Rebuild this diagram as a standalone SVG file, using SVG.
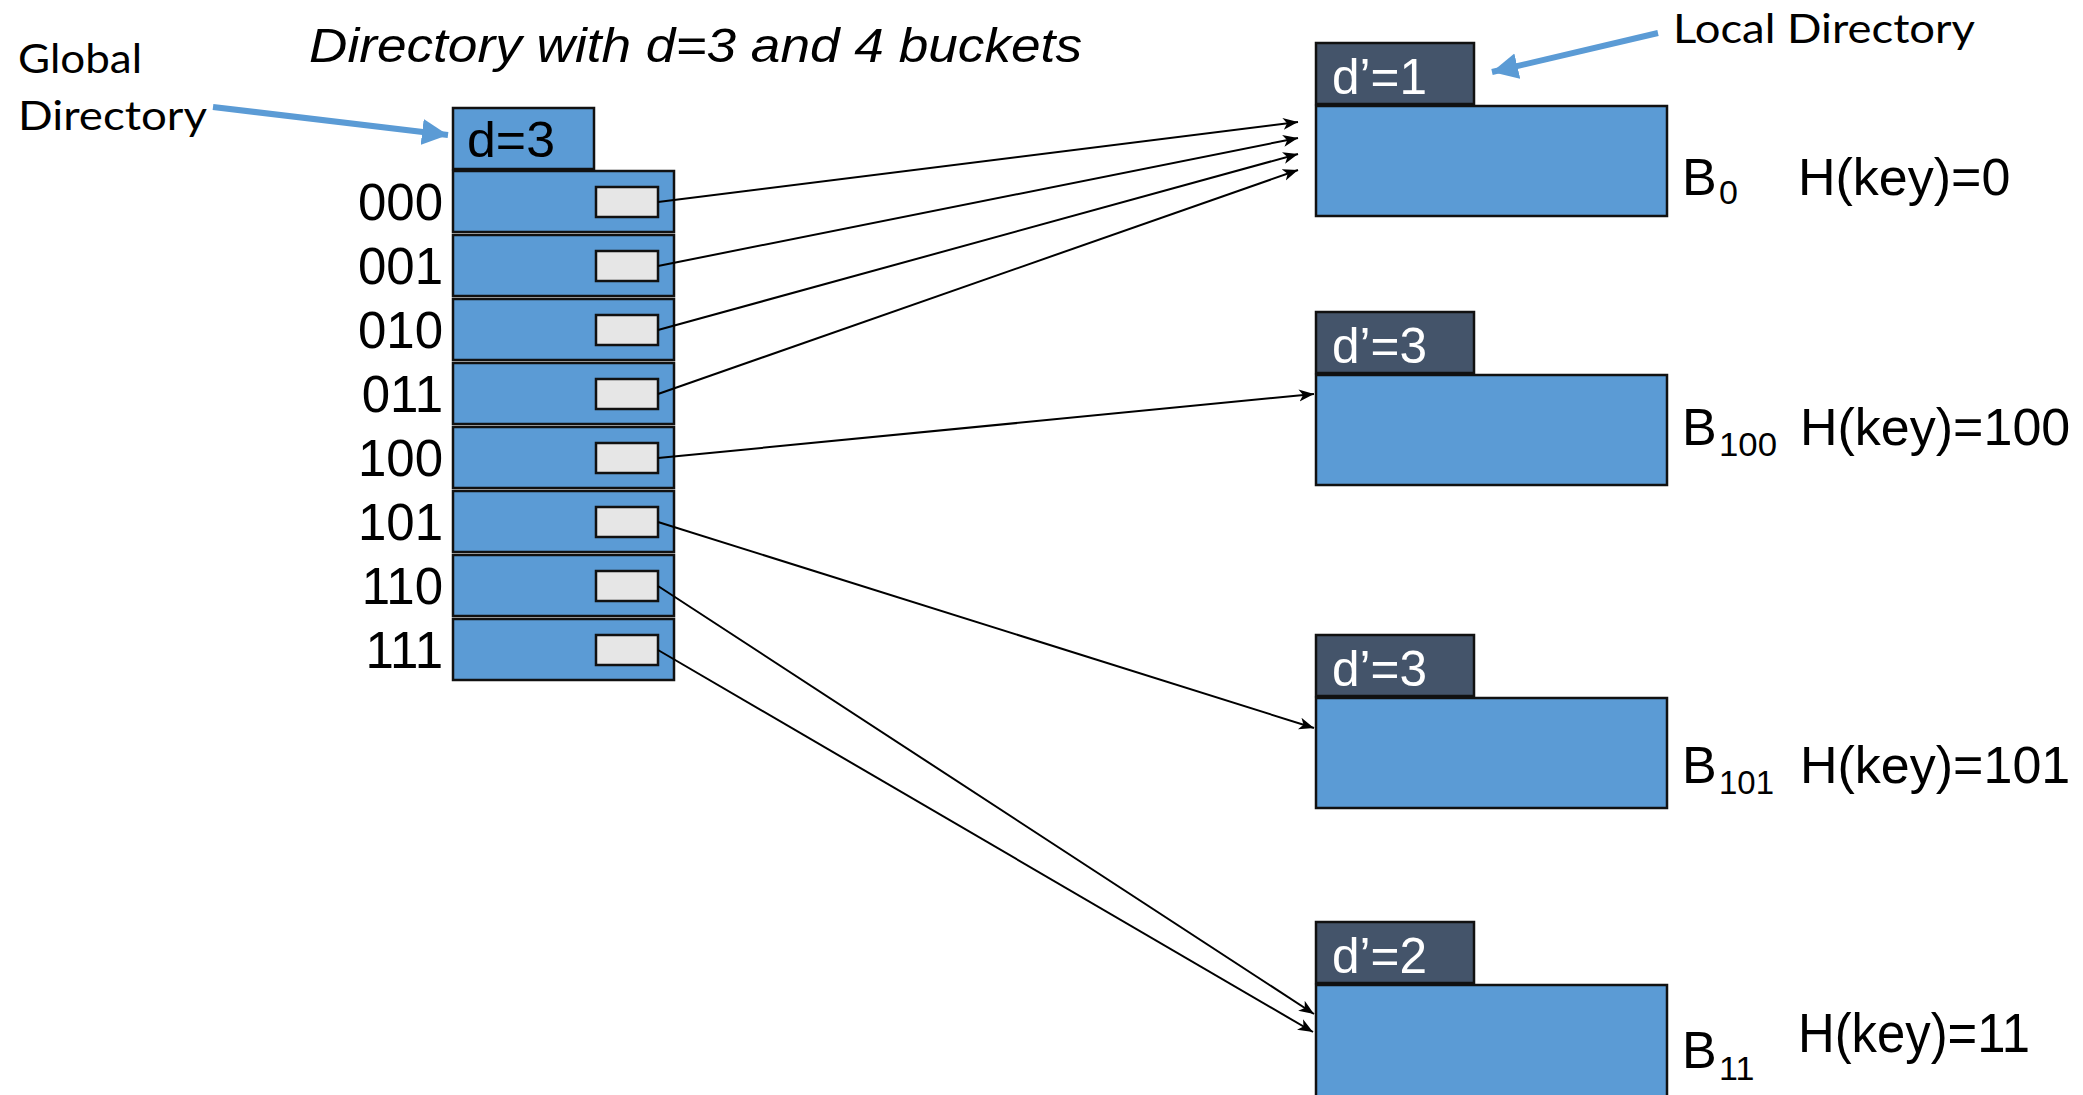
<svg xmlns="http://www.w3.org/2000/svg" width="2083" height="1095" viewBox="0 0 2083 1095">
  <style>
    .cell { fill: #5b9bd5; stroke: #111; stroke-width: 2.5; }
    .ptr { fill: #e6e6e6; stroke: #111; stroke-width: 2.5; }
    .depth { fill: #44546a; stroke: #111; stroke-width: 2.5; }
    .lbl { font-family: "Liberation Sans", Arial, sans-serif; fill: #000; }
    .gill { font-family: Lato, "Open Sans", sans-serif; fill: #000; }
    .wht { font-family: "Liberation Sans", Arial, sans-serif; fill: #fff; }
    .link { fill: none; stroke: #000; stroke-width: 2; marker-end: url(#tip); }
    .callout { fill: none; stroke: #5b9bd5; stroke-width: 6; marker-end: url(#bluetip); }
  </style>
  <defs>
    <marker id="tip" markerUnits="userSpaceOnUse" markerWidth="16" markerHeight="14" viewBox="0 -7 16 14" refX="15" refY="0" orient="auto">
      <path d="M0,-6 L15,0 L0,6 L4,0 z" fill="#000"/>
    </marker>
    <marker id="bluetip" markerUnits="userSpaceOnUse" markerWidth="28" markerHeight="28" viewBox="0 -14 28 28" refX="26" refY="0" orient="auto">
      <path d="M0,-13 L26,0 L0,13 z" fill="#5b9bd5"/>
    </marker>
  </defs>

  <rect width="2083" height="1095" fill="#fff"/>

  <!-- headings -->
  <g id="title">
    <text class="lbl" x="309" y="62" font-size="49" font-style="italic" textLength="773" lengthAdjust="spacingAndGlyphs">Directory with d=3 and 4 buckets</text>
  </g>
  <g id="global-label">
    <text class="gill" x="18" y="73" font-size="41" textLength="124" lengthAdjust="spacingAndGlyphs">Global</text>
    <text class="gill" x="18" y="130" font-size="41" textLength="189" lengthAdjust="spacingAndGlyphs">Directory</text>
  </g>
  <g id="local-label">
    <text class="gill" x="1673" y="43" font-size="41" textLength="302" lengthAdjust="spacingAndGlyphs">Local Directory</text>
  </g>

  <!-- global directory -->
  <g id="global-depth">
    <rect class="cell" x="453" y="108" width="141" height="61"/>
    <text class="lbl" x="467" y="157" font-size="50" textLength="88" lengthAdjust="spacingAndGlyphs">d=3</text>
  </g>
  <g id="dir-000">
    <rect class="cell" x="453" y="171" width="221" height="61"/>
    <rect class="ptr" x="596" y="187" width="62" height="30"/>
    <text class="lbl" x="443" y="220" font-size="51" text-anchor="end">000</text>
  </g>
  <g id="dir-001">
    <rect class="cell" x="453" y="235" width="221" height="61"/>
    <rect class="ptr" x="596" y="251" width="62" height="30"/>
    <text class="lbl" x="443" y="284" font-size="51" text-anchor="end">001</text>
  </g>
  <g id="dir-010">
    <rect class="cell" x="453" y="299" width="221" height="61"/>
    <rect class="ptr" x="596" y="315" width="62" height="30"/>
    <text class="lbl" x="443" y="348" font-size="51" text-anchor="end">010</text>
  </g>
  <g id="dir-011">
    <rect class="cell" x="453" y="363" width="221" height="61"/>
    <rect class="ptr" x="596" y="379" width="62" height="30"/>
    <text class="lbl" x="443" y="412" font-size="51" text-anchor="end">011</text>
  </g>
  <g id="dir-100">
    <rect class="cell" x="453" y="427" width="221" height="61"/>
    <rect class="ptr" x="596" y="443" width="62" height="30"/>
    <text class="lbl" x="443" y="476" font-size="51" text-anchor="end">100</text>
  </g>
  <g id="dir-101">
    <rect class="cell" x="453" y="491" width="221" height="61"/>
    <rect class="ptr" x="596" y="507" width="62" height="30"/>
    <text class="lbl" x="443" y="540" font-size="51" text-anchor="end">101</text>
  </g>
  <g id="dir-110">
    <rect class="cell" x="453" y="555" width="221" height="61"/>
    <rect class="ptr" x="596" y="571" width="62" height="30"/>
    <text class="lbl" x="443" y="604" font-size="51" text-anchor="end">110</text>
  </g>
  <g id="dir-111">
    <rect class="cell" x="453" y="619" width="221" height="61"/>
    <rect class="ptr" x="596" y="635" width="62" height="30"/>
    <text class="lbl" x="443" y="668" font-size="51" text-anchor="end">111</text>
  </g>

  <!-- buckets -->
  <g id="bucket-0">
    <rect class="depth" x="1316" y="43" width="158" height="61"/>
    <text class="wht" x="1332" y="94" font-size="50" textLength="95" lengthAdjust="spacingAndGlyphs">d’=1</text>
    <rect class="cell" x="1316" y="106" width="351" height="110"/>
    <text class="lbl" x="1682" y="195" font-size="52">B</text>
    <text class="lbl" x="1719" y="204" font-size="34">0</text>
    <text class="lbl" x="1798" y="195" font-size="52">H(key)=0</text>
  </g>
  <g id="bucket-100">
    <rect class="depth" x="1316" y="312" width="158" height="61"/>
    <text class="wht" x="1332" y="363" font-size="50" textLength="95" lengthAdjust="spacingAndGlyphs">d’=3</text>
    <rect class="cell" x="1316" y="375" width="351" height="110"/>
    <text class="lbl" x="1682" y="445" font-size="52">B</text>
    <text class="lbl" x="1719" y="456" font-size="34" textLength="58" lengthAdjust="spacingAndGlyphs">100</text>
    <text class="lbl" x="1800" y="445" font-size="52">H(key)=100</text>
  </g>
  <g id="bucket-101">
    <rect class="depth" x="1316" y="635" width="158" height="61"/>
    <text class="wht" x="1332" y="686" font-size="50" textLength="95" lengthAdjust="spacingAndGlyphs">d’=3</text>
    <rect class="cell" x="1316" y="698" width="351" height="110"/>
    <text class="lbl" x="1682" y="783" font-size="52">B</text>
    <text class="lbl" x="1719" y="794" font-size="34" textLength="55" lengthAdjust="spacingAndGlyphs">101</text>
    <text class="lbl" x="1800" y="783" font-size="52">H(key)=101</text>
  </g>
  <g id="bucket-11">
    <rect class="depth" x="1316" y="922" width="158" height="61"/>
    <text class="wht" x="1332" y="973" font-size="50" textLength="95" lengthAdjust="spacingAndGlyphs">d’=2</text>
    <rect class="cell" x="1316" y="985" width="351" height="120"/>
    <text class="lbl" x="1682" y="1068" font-size="52">B</text>
    <text class="lbl" x="1719" y="1080" font-size="34">11</text>
    <text class="lbl" x="1798" y="1052" font-size="56" textLength="232" lengthAdjust="spacingAndGlyphs">H(key)=11</text>
  </g>

  <!-- pointers from directory slots to buckets, and callout arrows -->
  <g id="connectors">
    <line class="link" x1="658" y1="202" x2="1298" y2="122"/>
    <line class="link" x1="658" y1="266" x2="1298" y2="138"/>
    <line class="link" x1="658" y1="330" x2="1298" y2="154"/>
    <line class="link" x1="658" y1="394" x2="1298" y2="170"/>
    <line class="link" x1="658" y1="458" x2="1314" y2="394"/>
    <line class="link" x1="658" y1="522" x2="1314" y2="728"/>
    <line class="link" x1="658" y1="586" x2="1314" y2="1014"/>
    <line class="link" x1="658" y1="650" x2="1313" y2="1032"/>
    <line class="callout" x1="213" y1="107" x2="448" y2="135"/>
    <line class="callout" x1="1658" y1="33" x2="1492" y2="72"/>
  </g>
</svg>
